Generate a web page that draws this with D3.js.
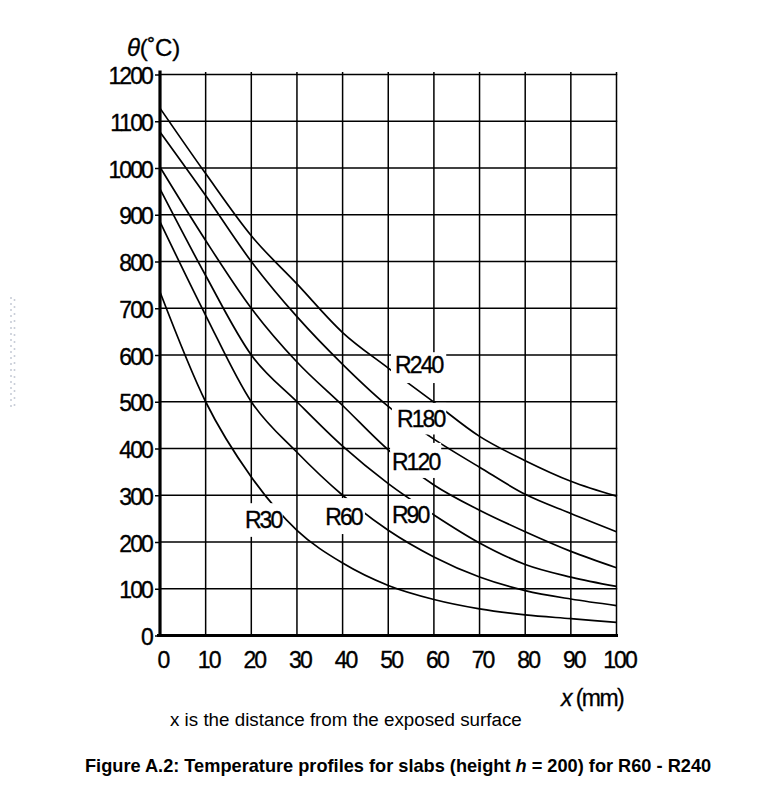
<!DOCTYPE html>
<html><head><meta charset="utf-8">
<script src="https://cdn.jsdelivr.net/npm/d3@7"></script>
<style>
html,body{margin:0;padding:0;background:#fff;}
svg{display:block;font-family:"Liberation Sans",Arial,Helvetica,sans-serif;}
</style></head><body>
<svg id="chart" width="768" height="806"></svg>
<script>
// ---- data ----
const xValues = [0,10,20,30,40,50,60,70,80,90,100];
const xTicks  = [0,10,20,30,40,50,60,70,80,90,100];
const yTicks  = [0,100,200,300,400,500,600,700,800,900,1000,1100,1200];
const seriesNames = ["R30","R60","R90","R120","R180","R240"];
const R30  = [735, 500, 339, 225, 155, 107, 77, 57, 44, 36, 28];
const R60  = [885, 685, 500, 392, 300, 225, 168, 125, 96, 78, 64];
const R90  = [955, 770, 600, 500, 405, 325, 258, 198, 152, 125, 105];
const R120 = [1002, 845, 700, 585, 492, 397, 322, 268, 222, 180, 145];
const R180 = [1077, 941, 800, 682, 580, 490, 420, 360, 302, 261, 222];
const R240 = [1128, 988, 855, 752, 648, 572, 499, 426, 374, 330, 298];
const seriesValues = [R30, R60, R90, R120, R180, R240];

// ---- layout ----
const svg = d3.select("#chart");
const x = d3.scaleLinear().domain([0,100]).range([160, 616.5]);
const y = d3.scaleLinear().domain([0,1200]).range([635.5, 74.5]);

const tickFont = {size:23, spacing:"-1.9px", stroke:0.35};

// label placement (data units): text left/baseline, white box extents
const labelLayout = {
  R240: {tx:51.5, ty:561, box:[50.6, 62.7, 606, 540]},
  R180: {tx:51.9, ty:446, box:[50.8, 62.7, 497.5, 430]},
  R120: {tx:50.8, ty:354, box:[50.4, 61.6, 412, 337]},
  R90:  {tx:50.8, ty:240, box:[50.4, 59.6, 292, 230]},
  R60:  {tx:36.2, ty:236, box:[35.3, 44.9, 294, 217]},
  R30:  {tx:18.6, ty:230, box:[18.0, 26.9, 283, 211]}
};

// faint scan artifact at left
const art = svg.append("g").attr("stroke","#c9ced8").attr("stroke-width",1.6);
art.append("line").attr("x1",11).attr("x2",11).attr("y1",297).attr("y2",410).attr("stroke-dasharray","2 4");
art.append("line").attr("x1",14.5).attr("x2",14.5).attr("y1",299).attr("y2",410).attr("stroke-dasharray","2 5");

// grid
const grid = svg.append("g").attr("stroke","#000").attr("stroke-width",1.5);
grid.selectAll("line.v").data(xTicks.filter(d=>d>0)).join("line")
  .attr("class","v")
  .attr("x1",d=>x(d)).attr("x2",d=>x(d))
  .attr("y1",y(1200)-2.5).attr("y2",y(0));
grid.selectAll("line.h").data(yTicks.filter(d=>d>0)).join("line")
  .attr("class","h")
  .attr("x1",x(0)).attr("x2",x(100)+0.7)
  .attr("y1",d=>y(d)).attr("y2",d=>y(d));

// curves
const line = d3.line().x((d,i)=>x(xValues[i])).y(d=>y(d)).curve(d3.curveMonotoneX);
svg.append("g").selectAll("path").data(seriesValues).join("path")
  .attr("d", line)
  .attr("fill","none").attr("stroke","#000").attr("stroke-width",1.7);

// label boxes + labels
const lab = svg.append("g");
seriesNames.forEach(n=>{
  const L = labelLayout[n];
  lab.append("rect")
    .attr("x", x(L.box[0])).attr("width", x(L.box[1])-x(L.box[0]))
    .attr("y", y(L.box[2])).attr("height", y(L.box[3])-y(L.box[2]))
    .attr("fill","#fff");
  lab.append("text")
    .attr("x", x(L.tx)).attr("y", y(L.ty))
    .attr("font-size",tickFont.size).attr("letter-spacing",tickFont.spacing)
    .attr("stroke","#000").attr("stroke-width",tickFont.stroke)
    .attr("fill","#000").text(n);
});

// axes (labels and ticks through d3 axes)
const yAxis = svg.append("g").attr("transform",`translate(${x(0)},0)`)
  .call(d3.axisLeft(y).tickValues(yTicks).tickSize(5).tickSizeOuter(0).tickPadding(3).tickFormat(d3.format("d")));
yAxis.select(".domain").remove();
yAxis.selectAll(".tick line").attr("stroke","#000").attr("stroke-width",1.5);
yAxis.selectAll(".tick text").attr("font-size",tickFont.size).attr("letter-spacing",tickFont.spacing)
  .attr("stroke","#000").attr("stroke-width",tickFont.stroke)
  .attr("font-family","'Liberation Sans',Arial,sans-serif").attr("fill","#000").attr("dy","0.40em");

const xAxis = svg.append("g").attr("transform",`translate(0,${y(0)})`)
  .call(d3.axisBottom(x).tickValues(xTicks).tickSize(0).tickSizeOuter(0).tickPadding(16).tickFormat(d3.format("d")));
xAxis.select(".domain").remove();
xAxis.selectAll(".tick text").attr("font-size",tickFont.size).attr("letter-spacing",tickFont.spacing)
  .attr("stroke","#000").attr("stroke-width",tickFont.stroke)
  .attr("font-family","'Liberation Sans',Arial,sans-serif").attr("fill","#000").attr("dx","2.5");

// thick axis lines
svg.append("line").attr("x1",x(0)).attr("x2",x(0)).attr("y1",y(1200)-4).attr("y2",y(0)+1.5)
  .attr("stroke","#000").attr("stroke-width",3.2);
svg.append("line").attr("x1",x(0)-3).attr("x2",x(100)+1.5).attr("y1",y(0)).attr("y2",y(0))
  .attr("stroke","#000").attr("stroke-width",3.2);

// axis titles
const yt = svg.append("text").attr("x",127).attr("y",56).attr("font-size",24).attr("letter-spacing","-0.3px")
  .attr("stroke","#000").attr("stroke-width",0.3).attr("fill","#000");
yt.append("tspan").attr("font-style","italic").text("θ");
yt.append("tspan").text("(˚C)");

const xt = svg.append("text").attr("x",623).attr("y",706).attr("text-anchor","end").attr("font-size",23).attr("letter-spacing","-1.6px")
  .attr("stroke","#000").attr("stroke-width",0.3).attr("fill","#000");
xt.append("tspan").attr("font-style","italic").text("x");
xt.append("tspan").text(" (mm)");

// captions
svg.append("text").attr("x",170).attr("y",726).attr("font-size",18.8).attr("fill","#000")
  .text("x is the distance from the exposed surface");
const cap = svg.append("text").attr("x",85).attr("y",772).attr("font-size",18.2).attr("font-weight","bold").attr("fill","#000");
cap.append("tspan").text("Figure A.2: Temperature profiles for slabs (height ");
cap.append("tspan").attr("font-style","italic").text("h");
cap.append("tspan").text(" = 200) for R60 - R240");
</script>
</body></html>
